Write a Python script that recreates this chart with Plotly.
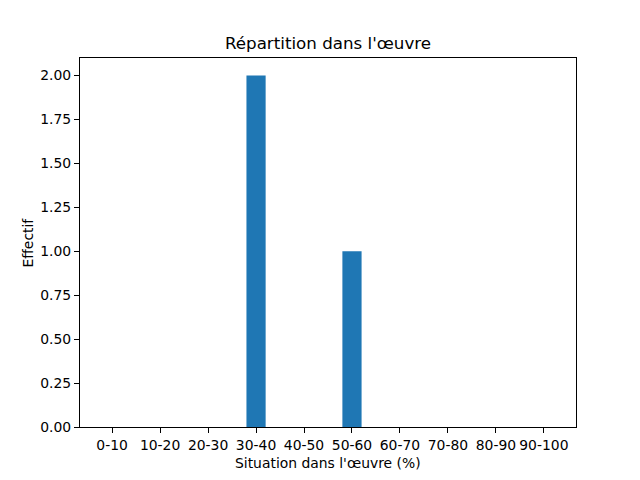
import plotly.graph_objects as go

categories = ["0-10", "10-20", "20-30", "30-40", "40-50", "50-60", "60-70", "70-80", "80-90", "90-100"]
counts = [0, 0, 0, 2, 0, 1, 0, 0, 0, 0]
y_ticks = [0.0, 0.25, 0.5, 0.75, 1.0, 1.25, 1.5, 1.75, 2.0]

xpos = list(range(len(categories)))
font = "DejaVu Sans"

fig = go.Figure(go.Bar(x=xpos, y=counts, width=0.4, marker=dict(color="#1f77b4", line=dict(width=0))))

# page has an 8px body margin; compensate so the axes land at 80..576 x 58..427
W, H = 632, 472
L, R, T, B = 72, 64, 50, 53
fig.update_layout(
    width=W, height=H,
    margin=dict(l=L, r=R, t=T, b=B, pad=0),
    paper_bgcolor="white", plot_bgcolor="white",
    font=dict(family=font, size=13.9, color="black"),
    showlegend=False,
    title=dict(text="Répartition dans l'œuvre", x=(L + (W - R)) / 2 / W, xanchor="center",
               y=1 - 35 / H, yanchor="middle", font=dict(size=16.7, family=font)),
    xaxis=dict(range=[-0.67, 9.67], tickmode="array", tickvals=xpos, ticktext=categories,
               showgrid=False, zeroline=False, showline=True, mirror=True, linecolor="black", linewidth=1,
               ticks="outside", ticklen=5, tickcolor="black", tickfont=dict(size=13.9)),
    yaxis=dict(range=[0, 2.1], tickmode="array", tickvals=y_ticks, ticktext=[f"{v:.2f}" for v in y_ticks],
               showgrid=False, zeroline=False, showline=True, mirror=True, linecolor="black", linewidth=1,
               ticks="outside", ticklen=5, tickcolor="black", tickfont=dict(size=13.9)),
    annotations=[
        dict(text="Situation dans l'œuvre (%)", xref="paper", yref="paper", x=0.5, y=-(463 - 427) / 369,
             xanchor="center", yanchor="middle", showarrow=False, font=dict(size=13.9)),
        dict(text="Effectif", xref="paper", yref="paper", x=-(80 - 27) / 496, y=0.5, textangle=-90,
             xanchor="center", yanchor="middle", showarrow=False, font=dict(size=13.9)),
    ],
)

fig.write_html("out.html")
